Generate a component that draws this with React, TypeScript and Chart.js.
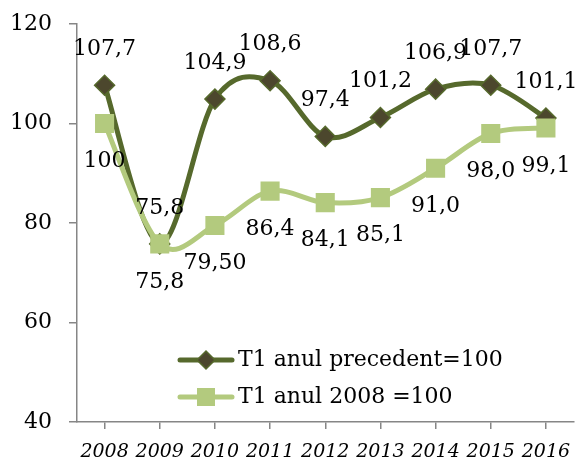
import React, { useEffect, useRef } from "react";
import { Chart, registerables } from "chart.js";

Chart.register(...registerables);

const categories = ["2008", "2009", "2010", "2011", "2012", "2013", "2014", "2015", "2016"];
const seriesPrevYear = [107.7, 75.8, 104.9, 108.6, 97.4, 101.2, 106.9, 107.7, 101.1];
const seriesBase2008 = [100, 75.8, 79.5, 86.4, 84.1, 85.1, 91.0, 98.0, 99.1];
const labelsPrevYear = ["107,7", "75,8", "104,9", "108,6", "97,4", "101,2", "106,9", "107,7", "101,1"];
const labelsBase2008 = ["100", "75,8", "79,50", "86,4", "84,1", "85,1", "91,0", "98,0", "99,1"];
const seriesNames = ["T1 anul precedent=100", "T1 anul 2008 =100"];
const yTicks = { min: 40, max: 120, step: 20 };

const FONT = "'DejaVu Serif', serif";
const DARK_LINE = "#56692c";
const DARK_MARK = "#4c472d";
const LIGHT = "#b3ca7e";

// Excel-like smoothing: uniform Catmull-Rom control points on the library's points
const smoothPlugin = {
  id: "excelSmooth",
  beforeDatasetDraw(chart: any, args: any) {
    const meta = args.meta;
    const line = meta.dataset;
    if (!line) return;
    if (typeof line.updateControlPoints === "function" && !line.__patched) {
      line.updateControlPoints(chart.chartArea, "x");
    }
    const pts = meta.data;
    const n = pts.length;
    const k = 1 / 6;
    for (let i = 0; i < n; i++) {
      const p = pts[i];
      const prev = pts[Math.max(0, i - 1)];
      const next = pts[Math.min(n - 1, i + 1)];
      const dx = next.x - prev.x;
      const dy = next.y - prev.y;
      p.cp1x = p.x - dx * k;
      p.cp1y = p.y - dy * k;
      p.cp2x = p.x + dx * k;
      p.cp2y = p.y + dy * k;
    }
    line.__patched = true;
    line._pointsUpdated = true;
    line.updateControlPoints = function () {};
    line._path = undefined;
  },
};

const labelPlugin = {
  id: "valueLabels",
  afterDatasetsDraw(chart: any) {
    const ctx = chart.ctx;
    ctx.save();
    ctx.font = `22px ${FONT}`;
    ctx.fillStyle = "#000";
    ctx.textAlign = "center";
    ctx.textBaseline = "middle";
    const sets = [
      { idx: 0, labels: labelsPrevYear, dy: -36 },
      { idx: 1, labels: labelsBase2008, dy: 38 },
    ];
    sets.forEach((s) => {
      const meta = chart.getDatasetMeta(s.idx);
      meta.data.forEach((pt: any, i: number) => {
        ctx.fillText(s.labels[i], pt.x, pt.y + s.dy);
      });
    });
    ctx.restore();
  },
  afterDraw(chart: any) {
    const ctx = chart.ctx;
    ctx.save();
    const rows = [
      { y: 360, color: DARK_LINE, fill: DARK_MARK, style: "diamond" },
      { y: 397, color: LIGHT, fill: LIGHT, style: "square" },
    ];
    const x0 = 180;
    const x1 = 232;
    const xm = (x0 + x1) / 2;
    rows.forEach((r, i) => {
      ctx.strokeStyle = r.color;
      ctx.lineWidth = 5;
      ctx.lineCap = "round";
      ctx.beginPath();
      ctx.moveTo(x0, r.y);
      ctx.lineTo(x1, r.y);
      ctx.stroke();
      ctx.fillStyle = r.fill;
      ctx.beginPath();
      if (r.style === "diamond") {
        const d = 9;
        ctx.moveTo(xm - d, r.y);
        ctx.lineTo(xm, r.y - d);
        ctx.lineTo(xm + d, r.y);
        ctx.lineTo(xm, r.y + d);
        ctx.closePath();
        ctx.fill();
        ctx.lineWidth = 1.5;
        ctx.strokeStyle = DARK_LINE;
        ctx.stroke();
      } else {
        const h = 9;
        ctx.rect(xm - h, r.y - h, 2 * h, 2 * h);
        ctx.fill();
      }
      ctx.fillStyle = "#000";
      ctx.font = `22px ${FONT}`;
      ctx.textAlign = "left";
      ctx.textBaseline = "middle";
      ctx.fillText(seriesNames[i], 238, r.y);
    });
    ctx.restore();
  },
};

export default function App() {
  const ref = useRef<HTMLCanvasElement>(null);
  useEffect(() => {
    document.body.style.margin = "0";
    const chart = new Chart(ref.current as HTMLCanvasElement, {
      type: "line",
      data: {
        labels: categories,
        datasets: [
          {
            label: seriesNames[0],
            data: seriesPrevYear,
            borderColor: DARK_LINE,
            borderWidth: 5,
            backgroundColor: DARK_MARK,
            pointStyle: "rectRot",
            pointRadius: 10,
            pointBorderColor: DARK_LINE,
            pointBorderWidth: 1.5,
            pointBackgroundColor: DARK_MARK,
            tension: 0.4,
            order: 1,
          },
          {
            label: seriesNames[1],
            data: seriesBase2008,
            borderColor: LIGHT,
            borderWidth: 5,
            backgroundColor: LIGHT,
            pointStyle: "rect",
            pointRadius: 13.5,
            pointBorderWidth: 0,
            pointBackgroundColor: LIGHT,
            tension: 0.4,
            order: 0,
          },
        ],
      },
      options: {
        responsive: false,
        animation: false,
        devicePixelRatio: 1,
        layout: { padding: { top: 24, right: 3, left: 0, bottom: 0 } },
        plugins: { legend: { display: false }, tooltip: { enabled: false } },
        scales: {
          x: {
            offset: true,
            grid: {
              display: true,
              drawOnChartArea: false,
              drawTicks: true,
              tickLength: 7,
              color: "#868686",
              lineWidth: 1.5,
            },
            border: { display: true, color: "#868686", width: 1.5 },
            ticks: {
              color: "#000",
              padding: 12,
              font: { family: FONT, size: 19, style: "italic" },
              maxRotation: 0,
              autoSkip: false,
            },
            afterFit(scale: any) {
              scale.height = 37;
              scale.paddingLeft = 0;
              scale.paddingRight = 0;
            },
          },
          y: {
            min: yTicks.min,
            max: yTicks.max,
            grid: {
              display: true,
              drawOnChartArea: false,
              drawTicks: true,
              tickLength: 8,
              color: "#868686",
              lineWidth: 1.5,
            },
            border: { display: true, color: "#868686", width: 1.5 },
            ticks: {
              stepSize: yTicks.step,
              color: "#000",
              padding: 17,
              font: { family: FONT, size: 22 },
            },
            afterFit(scale: any) {
              scale.width = 77;
              scale.paddingTop = 0;
              scale.paddingBottom = 0;
            },
          },
        },
      },
      plugins: [smoothPlugin, labelPlugin],
    } as any);
    return () => chart.destroy();
  }, []);
  return (
    <div style={{ width: 587, height: 459 }}>
      <canvas ref={ref} width={587} height={459} />
    </div>
  );
}
